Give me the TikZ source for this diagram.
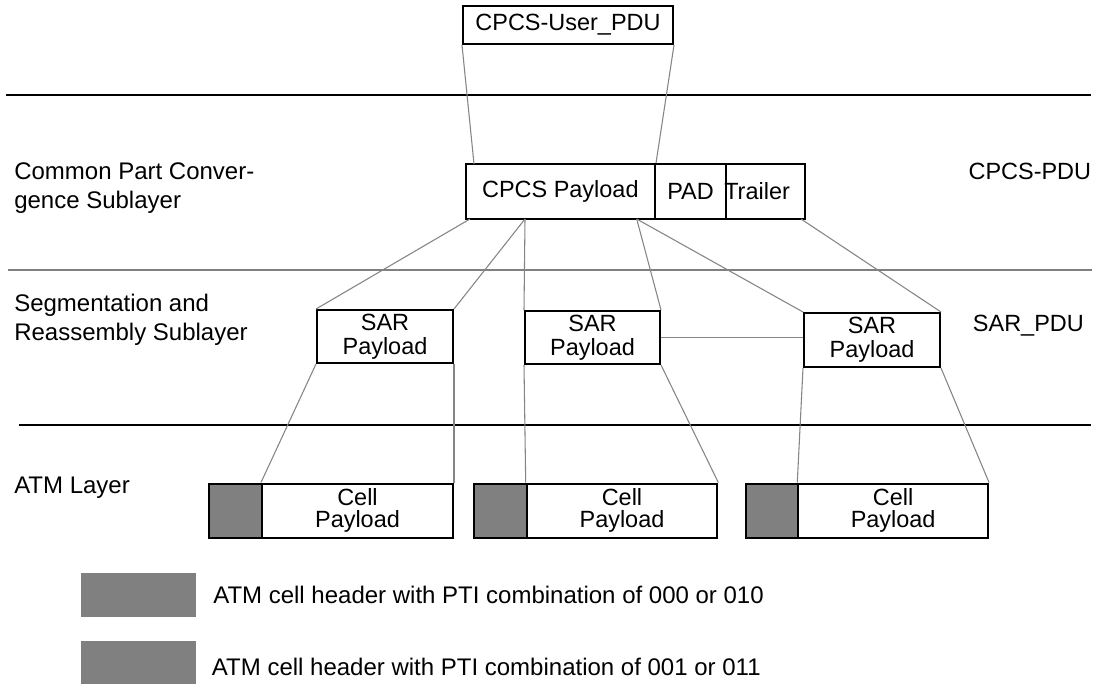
\documentclass[tikz,border=0pt]{standalone}
\usepackage{fontspec}
\setmainfont{Liberation Sans}
\definecolor{hgray}{HTML}{808080}
\definecolor{cgray}{HTML}{858585}
\newcommand\diafont{\fontsize{17.6}{18}\selectfont}
\newcommand\cellfont{\fontsize{17.6}{16.5}\selectfont}
\newcommand\sidefont{\fontsize{18}{21.5}\selectfont}
\newcommand\legfont{\fontsize{18}{20}\selectfont}
\begin{document}
\begin{tikzpicture}[x=0.75pt,y=-0.75pt,
  box/.style={draw=black,line width=1.5pt,inner sep=0pt,font=\diafont,align=center},
  cellbox/.style={box,font=\cellfont,minimum height=40.5pt},
  hdrbox/.style={draw=black,line width=1.5pt,fill=hgray,inner sep=0pt,minimum width=39.5pt,minimum height=40.5pt},
  legbox/.style={fill=hgray,inner sep=0pt,minimum width=86.25pt},
  sarbox/.style={box,minimum width=102pt},
  conn/.style={draw=cgray,line width=0.8pt},
  lbl/.style={inner sep=0pt,font=\diafont,anchor=base west},
  side/.style={inner sep=0pt,font=\sidefont,anchor=north west,align=left},
  layer/.style={line width=1.5pt,draw=black},
]
\useasboundingbox (0,0) rectangle (1099,684);
\fill[white] (0,0) rectangle (1099,684);

% layer separators
\draw[layer] (6,95) -- (1091,95);
\draw[line width=1.2pt,draw=hgray] (8,270) -- (1092,270);
\draw[layer] (19,424.5) -- (1091,424.5);

% side labels
\node[side] (lcpcs) at (14,162.5) {Common Part Conver-\\gence Sublayer};
\node[side] (lsar) at (14,294.2) {Segmentation and\\Reassembly Sublayer};
\node[lbl,font=\sidefont] (latm) at (14,493.3) {ATM Layer};
\node[lbl] (rcpcs) at (968.3,180) {CPCS-PDU};
\node[lbl] (rsar) at (972.7,331.7) {SAR\_PDU};

% CPCS level
\node[box,minimum width=157.5pt,minimum height=28.5pt] (user) at (568,25) {CPCS-User\_PDU};
\node[box,minimum width=142pt,minimum height=41.25pt] (payload) at (560.35,191.5) {CPCS Payload};
\node[box,minimum width=53.25pt,minimum height=41.25pt] (pad) at (690.5,191.5) {PAD};
\node[box,minimum width=59.25pt,minimum height=41.25pt] (trailer) at (765.5,191.5) {};
\node[lbl] (trailertxt) at (724,200) {Trailer};

% SAR level
\node[sarbox,minimum height=39.75pt] (sar1) at (385,336.5) {SAR\\Payload};
\node[sarbox,minimum width=101.25pt,minimum height=39.75pt] (sar2) at (592.5,337.5) {SAR\\Payload};
\node[sarbox,minimum height=40.5pt] (sar3) at (872,340) {SAR\\Payload};

% ATM cells
\node[hdrbox] (h1) at (235.65,510.5) {};
\node[cellbox,minimum width=143.25pt] (c1) at (357.5,510.5) {Cell\\Payload};
\node[hdrbox] (h2) at (500.35,510.5) {};
\node[cellbox,minimum width=142.95pt] (c2) at (622,510.5) {Cell\\Payload};
\node[hdrbox,minimum width=39.2pt] (h3) at (772.15,510.5) {};
\node[cellbox,minimum width=142.3pt] (c3) at (893.15,510.5) {Cell\\Payload};

% connectors
\coordinate (pin) at (474,164);
\coordinate (p1) at (470,219);
\coordinate (p2) at (525,219);
\coordinate (p3) at (636.7,219);
\coordinate (p4) at (801,219);
\draw[conn] (user.south west) -- (pin);
\draw[conn] (user.south east) -- (payload.north east);
\draw[conn] (p1) -- (sar1.north west);
\draw[conn] (p2) -- (sar1.north east);
\draw[conn] (p2) -- (sar2.north west);
\draw[conn] (p3) -- (sar2.north east);
\draw[conn] (p3) -- (sar3.north west);
\draw[conn] (p4) -- (sar3.north east);
\draw[conn,line width=1.2pt] (sar2.east) -- (sar2.east -| sar3.west);
\draw[conn] (sar1.south west) -- (c1.north west);
\draw[conn] (sar1.south east) -- (c1.north east);
\draw[conn] (sar2.south west) -- (c2.north west);
\draw[conn] (sar2.south east) -- (c2.north east);
\draw[conn] (sar3.south west) -- (c3.north west);
\draw[conn] (sar3.south east) -- (c3.north east);

% legend
\node[legbox,minimum height=32.8pt] (leg1) at (138.2,594.85) {};
\node[legbox,minimum height=32.25pt] (leg2) at (138.2,662.5) {};
\node[lbl,font=\legfont] (legtxt1) at (213,603) {ATM cell header with PTI combination of 000 or 010};
\node[lbl,font=\legfont] (legtxt2) at (211.7,675) {ATM cell header with PTI combination of 001 or 011};
\end{tikzpicture}
\end{document}
